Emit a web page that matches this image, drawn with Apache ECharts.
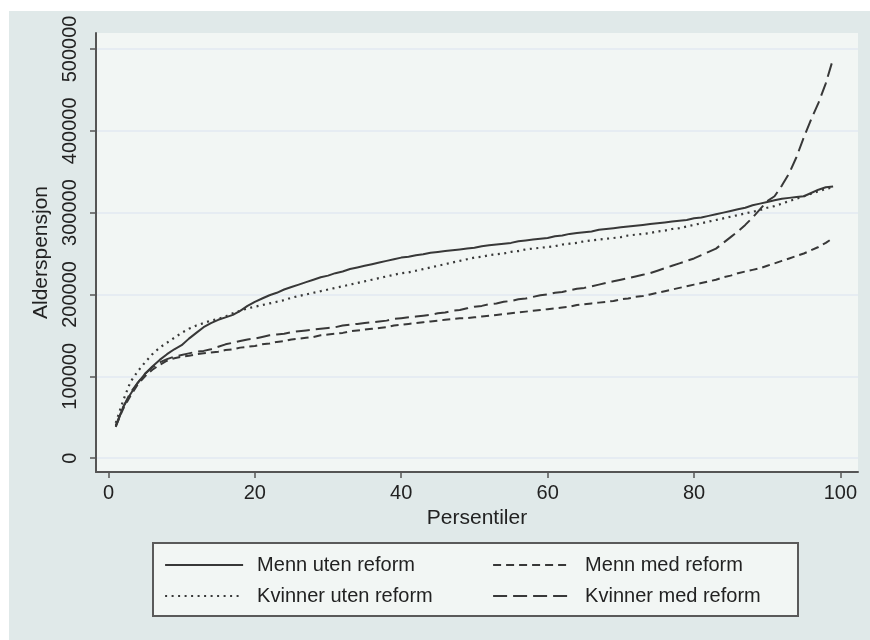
<!DOCTYPE html>
<html>
<head>
<meta charset="utf-8">
<script src="https://cdn.jsdelivr.net/npm/echarts@6/dist/echarts.min.js"></script>
<style>
html,body{margin:0;padding:0;background:#ffffff;}
#chart{width:870px;height:640px;}
</style>
</head>
<body>
<div id="chart"></div>
<script>
// Percentiles 1..99
var percentiles = [];
for (var i = 1; i <= 99; i++) percentiles.push(i);

var xTicks = [0, 20, 40, 60, 80, 100];
var yTicks = [0, 100000, 200000, 300000, 400000, 500000];

var seriesNames = ["Menn uten reform", "Menn med reform", "Kvinner uten reform", "Kvinner med reform"];

var mennUten = [
 40000, 62000, 78000, 92000,103000,112000,120000,127000,133000,138000,
146000,153000,160000,165000,169000,172000,175000,180000,186000,191000,
195000,199000,202000,206000,209000,212000,215000,218000,221000,223000,
226000,228000,231000,233000,235000,237000,239000,241000,243000,245000,
246000,248000,249000,251000,252000,253000,254000,255000,256000,257000,
259000,260000,261000,262000,263000,265000,266000,267000,268000,269000,
271000,272000,274000,275000,276000,277000,279000,280000,281000,282000,
283000,284000,285000,286000,287000,288000,289000,290000,291000,293000,
294000,296000,298000,300000,302000,304000,306000,309000,311000,313000,
315000,317000,318000,319000,320000,324000,328000,331000,332000];

var kvinnerUten = [
 43000, 70000, 93000,106000,117000,127000,135000,141000,147000,153000,
158000,162000,165000,168000,170000,173000,177000,180000,183000,185000,
187000,189000,191000,193000,196000,198000,200000,202000,204000,206000,
208000,210000,212000,214000,216000,218000,220000,222000,224000,226000,
227000,229000,231000,233000,235000,237000,239000,241000,243000,245000,
246000,248000,249000,250000,252000,253000,255000,256000,257000,258000,
259000,261000,262000,263000,265000,266000,267000,268000,269000,270000,
272000,273000,274000,275000,277000,278000,280000,281000,283000,285000,
287000,289000,291000,293000,295000,297000,299000,301000,303000,306000,
308000,311000,314000,317000,320000,323000,326000,329000,331000];

var mennMed = [
 39000, 60000, 76000, 90000,100000,108000,114000,119000,122000,124000,
125000,127000,128000,129000,130000,132000,133000,135000,136000,137000,
139000,140000,142000,143000,145000,146000,147000,148000,150000,151000,
152000,153000,155000,156000,157000,158000,159000,160000,162000,163000,
164000,165000,166000,167000,168000,169000,170000,171000,171000,172000,
173000,174000,175000,176000,177000,178000,179000,180000,181000,182000,
183000,184000,185000,187000,188000,189000,190000,191000,192000,194000,
195000,197000,198000,200000,202000,204000,206000,208000,210000,212000,
214000,216000,218000,221000,223000,226000,228000,230000,232000,235000,
238000,241000,244000,247000,250000,254000,258000,263000,269000];

var kvinnerMed = [
 38000, 62000, 80000, 92000,103000,111000,117000,121000,124000,126000,
128000,130000,131000,133000,136000,139000,141000,143000,145000,146000,
148000,150000,151000,152000,154000,155000,156000,157000,158000,159000,
160000,162000,163000,164000,165000,166000,167000,168000,170000,171000,
172000,173000,174000,175000,177000,178000,180000,181000,183000,185000,
186000,188000,189000,191000,192000,194000,195000,197000,199000,200000,
202000,203000,205000,207000,208000,210000,212000,214000,216000,218000,
220000,222000,224000,226000,229000,232000,235000,238000,241000,244000,
248000,252000,256000,263000,270000,277000,285000,294000,304000,314000,
320000,333000,348000,368000,392000,414000,434000,458000,488000];

function pairs(arr){ return percentiles.map(function(p,i){ return [p, arr[i]]; }); }

var FONT = 'Liberation Sans';
var LINE = '#383838';
var TXT = '#222';

function legendFor(name, left, top){
  return {
    left:left, top:top, orient:'horizontal', padding:0,
    itemWidth:78, itemHeight:14, itemGap:0,
    itemStyle:{opacity:0},
    lineStyle:{width:2.2},
    selectedMode:false,
    textStyle:{fontFamily:FONT, fontSize:20, color:TXT, lineHeight:20, padding:[0,0,0,9]},
    data:[name]
  };
}

var chart = echarts.init(document.getElementById('chart'), null, {renderer:'canvas'});
chart.setOption({
  animation:false,
  backgroundColor:'#ffffff',
  textStyle:{fontFamily:FONT},
  graphic:[{
    type:'rect', z:-10, silent:true,
    shape:{x:9, y:11, width:861, height:629},
    style:{fill:'#e0e9e9'}
  },{
    type:'rect', z:1, silent:true,
    shape:{x:153, y:543, width:645, height:73},
    style:{fill:'#f2f6f4', stroke:'#5a5a5a', lineWidth:2}
  }],
  grid:{left:96, top:33, right:12, bottom:168, show:true, backgroundColor:'#f2f6f4', borderWidth:0, containLabel:false},
  xAxis:{
    type:'value', min:-1.7, max:102.4,
    name:'Persentiler', nameLocation:'middle', nameGap:36,
    nameTextStyle:{fontFamily:FONT, fontSize:21, color:TXT},
    axisLine:{show:true, onZero:false, lineStyle:{color:'#555', width:2}},
    axisTick:{show:true, length:6, customValues:xTicks, lineStyle:{color:'#555', width:1.5}},
    axisLabel:{customValues:xTicks, fontFamily:FONT, fontSize:20, color:TXT, margin:11},
    splitLine:{show:false}
  },
  yAxis:{
    type:'value', min:-17000, max:519500,
    name:'Alderspensjon', nameLocation:'middle', nameGap:42, nameRotate:90,
    nameTextStyle:{fontFamily:FONT, fontSize:21, color:TXT},
    axisLine:{show:true, onZero:false, lineStyle:{color:'#555', width:2}},
    axisTick:{show:true, length:6, customValues:yTicks, lineStyle:{color:'#555', width:1.5}},
    axisLabel:{customValues:yTicks, rotate:90, fontFamily:FONT, fontSize:20, color:TXT, margin:16,
      formatter:function(v){ return String(v); }},
    splitLine:{show:true, lineStyle:{color:'#e6ecf2', width:2}}
  },
  legend:[
    legendFor('Menn uten reform', 164, 555),
    legendFor('Menn med reform', 492, 555),
    legendFor('Kvinner uten reform', 164, 586),
    legendFor('Kvinner med reform', 492, 586)
  ],
  series:[
    {name:'Menn uten reform', type:'line', data:pairs(mennUten), showSymbol:false, symbol:'none',
     lineStyle:{color:LINE, width:2, type:'solid'}, itemStyle:{color:LINE}},
    {name:'Menn med reform', type:'line', data:pairs(mennMed), showSymbol:false, symbol:'none',
     lineStyle:{color:LINE, width:2, type:[8,5]}, itemStyle:{color:LINE}},
    {name:'Kvinner uten reform', type:'line', data:pairs(kvinnerUten), showSymbol:false, symbol:'none',
     lineStyle:{color:LINE, width:2.2, type:[2,4.5]}, itemStyle:{color:LINE}},
    {name:'Kvinner med reform', type:'line', data:pairs(kvinnerMed), showSymbol:false, symbol:'none',
     lineStyle:{color:LINE, width:2, type:[14,6]}, itemStyle:{color:LINE}}
  ]
});
</script>
</body>
</html>
